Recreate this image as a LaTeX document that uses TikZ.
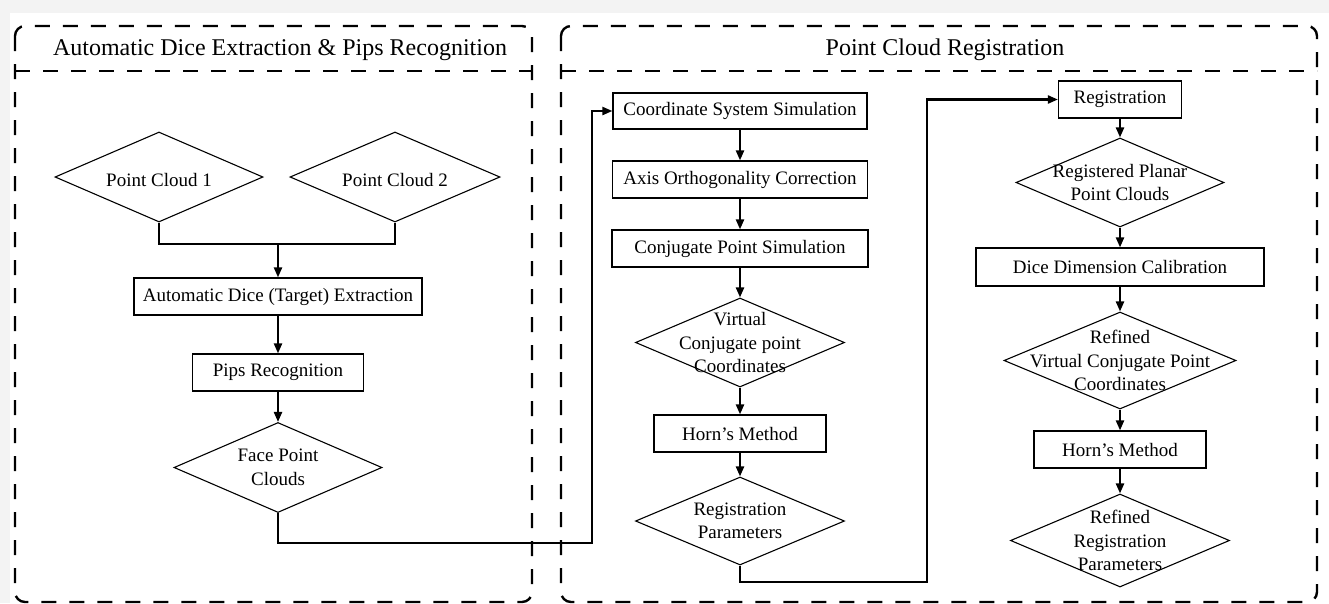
\documentclass[tikz,border=0pt]{standalone}
\usepackage{fontspec}
\setmainfont{Liberation Serif}
\usetikzlibrary{shapes.geometric,arrows.meta}
\definecolor{margingray}{HTML}{F3F3F3}
\tikzset{
  panel/.style={line width=2.4pt, dash pattern=on 15pt off 13pt, rounded corners=10pt},
  sep/.style={line width=2.4pt, dash pattern=on 15pt off 13pt},
  stepbox/.style={draw, line width=1.2pt, inner sep=0pt, font=\fontsize{19}{22.5}\selectfont},
  dia/.style={draw, diamond, line width=1.1pt, inner sep=0pt},
  diatext/.style={align=center, inner sep=0pt, font=\fontsize{19}{23.5}\selectfont},
  ttl/.style={font=\fontsize{24}{28}\selectfont},
  conn/.style={line width=2.2pt},
  arr/.style={conn, -{Triangle[length=10pt,width=8pt]}}
}
\begin{document}
\begin{tikzpicture}[x=1pt,y=-1pt]
\useasboundingbox (0,0) rectangle (1329,603);
\fill[white] (0,0) rectangle (1329,603);
\fill[margingray] (0,0) rectangle (1329,13);
\fill[margingray] (0,0) rectangle (10,603);

% panels
\draw[panel] (15,26) rectangle (532,602);
\draw[sep] (15,71) -- (532,71);
\draw[panel] (561,26) rectangle (1317,602);
\draw[sep] (561,71) -- (1317,71);
\node[ttl] (t1) at (280,50) {Automatic Dice Extraction \& Pips Recognition};
\node[ttl] (t2) at (945,50) {Point Cloud Registration};

% left column
\node[dia, minimum width=208, minimum height=90] (pc1) at (159,177) {};
\node[diatext] (pc1t) at ([yshift=-3]pc1.center) {Point Cloud 1};
\node[dia, minimum width=210, minimum height=90] (pc2) at (395,177) {};
\node[diatext] (pc2t) at ([yshift=-3]pc2.center) {Point Cloud 2};
\coordinate (j) at (278,244);
\node[stepbox, minimum width=288, minimum height=37] (ade) at (278,296.5) {Automatic Dice (Target) Extraction};
\node[stepbox, minimum width=171, minimum height=37] (pips) at (278,372.5) {Pips Recognition};
\node[dia, minimum width=208, minimum height=90] (fpc) at (278,467.5) {};
\node[diatext] (fpct) at (fpc) {Face Point\\Clouds};

\draw[conn] (pc1.south) |- (j) -| (pc2.south);
\draw[arr] (j) -- (ade.north);
\draw[arr] (ade.south) -- (pips.north);
\draw[arr] (pips.south) -- (fpc.north);

% middle column
\node[stepbox, minimum width=254, minimum height=36] (css) at (740,111) {Coordinate System Simulation};
\node[stepbox, minimum width=255, minimum height=37] (aoc) at (740,179.5) {Axis Orthogonality Correction};
\node[stepbox, minimum width=256, minimum height=37] (cps) at (740,248.5) {Conjugate Point Simulation};
\node[dia, minimum width=209, minimum height=89] (vcpc) at (740,342.5) {};
\node[diatext] (vcpct) at (vcpc) {Virtual\\Conjugate point\\Coordinates};
\node[stepbox, minimum width=172, minimum height=37] (horn1) at (740,433.5) {Horn’s Method};
\node[dia, minimum width=209, minimum height=88] (rp) at (740,521) {};
\node[diatext] (rpt) at (rp) {Registration\\Parameters};

\draw[arr] (css.south) -- (aoc.north);
\draw[arr] (aoc.south) -- (cps.north);
\draw[arr] (cps.south) -- (vcpc.north);
\draw[arr] (vcpc.south) -- (horn1.north);
\draw[arr] (horn1.south) -- (rp.north);

% right column
\node[stepbox, minimum width=123, minimum height=37] (reg) at (1120,99.5) {Registration};
\node[dia, minimum width=208, minimum height=89] (rppc) at (1120,182.5) {};
\node[diatext] (rppct) at (rppc) {Registered Planar\\Point Clouds};
\node[stepbox, minimum width=288, minimum height=38] (ddc) at (1120,267) {Dice Dimension Calibration};
\node[dia, minimum width=232, minimum height=97] (rvcpc) at (1120,360.5) {};
\node[diatext] (rvcpct) at (rvcpc) {Refined\\Virtual Conjugate Point\\Coordinates};
\node[stepbox, minimum width=172, minimum height=37] (horn2) at (1120,449.5) {Horn’s Method};
\node[dia, minimum width=219, minimum height=93] (rrp) at (1120,540.5) {};
\node[diatext] (rrpt) at (rrp) {Refined\\Registration\\Parameters};

\draw[arr] (reg.south) -- (rppc.north);
\draw[arr] (rppc.south) -- (ddc.north);
\draw[arr] (ddc.south) -- (rvcpc.north);
\draw[arr] (rvcpc.south) -- (horn2.north);
\draw[arr] (horn2.south) -- (rrp.north);

% cross connectors
\coordinate (c1) at (592,543);
\draw[arr] (fpc.south) |- (c1) |- (css.west);
\coordinate (c2) at (927,582);
\draw[arr] (rp.south) |- (c2) |- (reg.west);
\end{tikzpicture}
\end{document}
